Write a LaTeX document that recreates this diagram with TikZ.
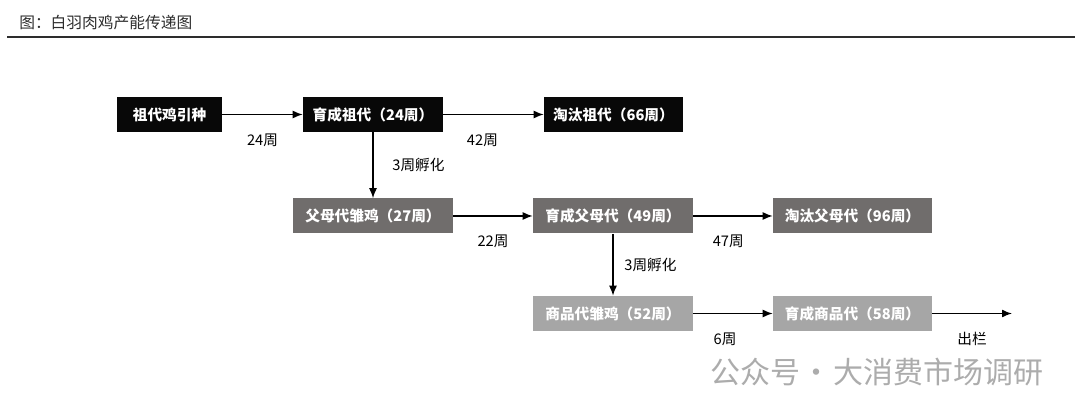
\documentclass[tikz,border=0pt]{standalone}
\usepackage{fontspec}
\setmainfont{Noto Sans CJK SC}
\usepackage{tikz}
\usetikzlibrary{arrows.meta}
\tikzset{>={Latex[length=7.5pt,width=6pt]}}
\definecolor{gpblack}{RGB}{8,8,8}
\definecolor{psgray}{RGB}{112,109,108}
\definecolor{cmgray}{RGB}{166,166,166}
\definecolor{titlegray}{RGB}{45,45,45}
\definecolor{markgray}{RGB}{172,172,172}
\tikzset{
  stage/.style={minimum height=26.25pt, inner sep=0pt, text=white, font=\fontsize{11}{13}\selectfont\bfseries},
  flow/.style={->, line width=1.1pt},
  lab/.style={midway, yshift=-19pt, inner sep=0pt, font=\fontsize{11}{13}\selectfont},
  vlab/.style={midway, anchor=west, inner sep=0pt, font=\fontsize{11}{13}\selectfont}
}

\begin{document}
\begin{tikzpicture}[x=0.75pt, y={(0,-0.75pt)}]
    \useasboundingbox (0,0) rectangle (1080,416);
    \node[anchor=west, inner sep=0pt, text=titlegray, font=\fontsize{11.8}{14}\selectfont] (title) at (19,23) {图：白羽肉鸡产能传递图};
    \draw[titlegray, line width=0.9pt] (7,37) -- (1075,37);
    % grandparent stock
    \node[stage, fill=gpblack, minimum width=78.75pt] (gp) at (169.5,114.5) {祖代鸡引种};
    \node[stage, fill=gpblack, minimum width=105pt] (gpgrow) at (373,114.5) {育成祖代（24周）};
    \node[stage, fill=gpblack, minimum width=104.25pt] (gpcull) at (613.5,114.5) {淘汰祖代（66周）};
    % parent stock
    \node[stage, fill=psgray, minimum width=120pt] (pschick) at (373,216) {父母代雏鸡（27周）};
    \node[stage, fill=psgray, minimum width=120pt] (psgrow) at (613,216) {育成父母代（49周）};
    \node[stage, fill=psgray, minimum width=119.25pt] (pscull) at (852.5,216) {淘汰父母代（96周）};
    % commercial broilers
    \node[stage, fill=cmgray, minimum width=120pt] (cmchick) at (613,313.5) {商品代雏鸡（52周）};
    \node[stage, fill=cmgray, minimum width=119.25pt] (cmgrow) at (852.5,313.5) {育成商品代（58周）};
    \coordinate (market) at (1012,313.5);
    \draw[flow] (gp) -- node[lab] {24周} (gpgrow);
    \draw[flow] (gpgrow) -- node[lab, pos=.39] {42周} (gpcull);
    \draw[flow] (gpgrow) -- node[vlab, xshift=14pt] {3周孵化} (pschick);
    \draw[flow] (pschick) -- node[lab] {22周} (psgrow);
    \draw[flow] (psgrow) -- node[lab, pos=.44] {47周} (pscull);
    \draw[flow] (psgrow) -- node[vlab, xshift=8pt] {3周孵化} (cmchick);
    \draw[flow] (cmchick) -- node[lab, pos=.4] {6周} (cmgrow);
    \draw[flow] (cmgrow) -- node[lab] {出栏} (market);
    \node[anchor=west, inner sep=0pt, text=markgray, font=\fontsize{22.5}{24}\selectfont] (mark) at (710,372) {公众号\hspace{0.05em}·\hspace{0.05em}大消费市场调研};
\end{tikzpicture}
\end{document}
